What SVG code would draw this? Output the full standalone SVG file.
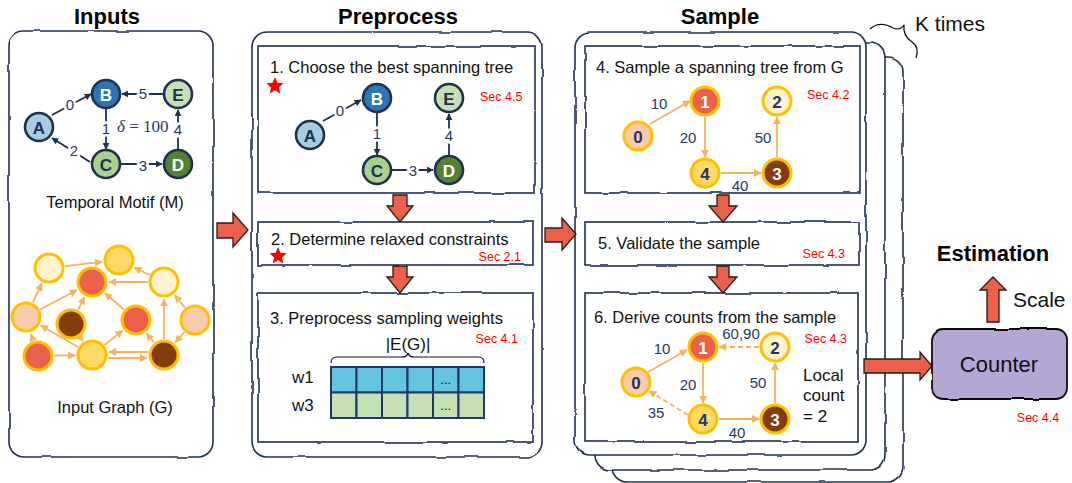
<svg xmlns="http://www.w3.org/2000/svg" width="1072" height="483" viewBox="0 0 1072 483">
<style>
.title{font-family:"Liberation Sans",Arial,sans-serif;font-weight:bold;font-size:22px;fill:#000;text-anchor:middle}
.step{font-family:"Liberation Sans",Arial,sans-serif;font-size:16.5px;fill:#111}
.sec{font-family:"Liberation Sans",Arial,sans-serif;font-size:12.5px;fill:#ff0000}
.cap{font-family:"Liberation Sans",Arial,sans-serif;font-size:16.5px;fill:#111;text-anchor:middle}
.txt{font-family:"Liberation Sans",Arial,sans-serif;fill:#111}
.nl{font-family:"Liberation Sans",Arial,sans-serif;font-weight:bold;font-size:17px;text-anchor:middle;dominant-baseline:central}
.el{font-family:"Liberation Sans",Arial,sans-serif;font-size:15px;fill:#1f3864;text-anchor:middle;dominant-baseline:central;stroke:#fff;stroke-width:5px;paint-order:stroke}
.sl{font-family:"Liberation Sans",Arial,sans-serif;font-size:15px;fill:#1f3864;text-anchor:middle;dominant-baseline:central}
.box{fill:#fff;stroke:#1f3050;stroke-width:1.6}
.mn{stroke:#1f3050;stroke-width:2.6}
.gn{stroke:#ffc000;stroke-width:3}
.me{stroke:#1f3050;stroke-width:1.8;fill:none;marker-end:url(#am)}
.ge{stroke:#f6b35e;stroke-width:1.8;fill:none;marker-end:url(#ag)}
.se{stroke:#f6b35e;stroke-width:1.8;fill:none;marker-end:url(#ag)}
.dash{stroke-dasharray:5 3}
.red{fill:#ea604b;stroke:#2b1a16;stroke-width:1.3}
.cell1{fill:#63c3e0;stroke:#1f3864;stroke-width:2}
.cell2{fill:#c5e0b4;stroke:#1f3864;stroke-width:2}
</style>
<defs>
<marker id="am" viewBox="0 0 10 10" refX="9" refY="5" markerWidth="7" markerHeight="7" markerUnits="userSpaceOnUse" orient="auto"><path d="M0,0 L10,5 L0,10 z" fill="#1f3050"/></marker>
<marker id="ag" viewBox="0 0 10 10" refX="9" refY="5" markerWidth="8" markerHeight="8" markerUnits="userSpaceOnUse" orient="auto"><path d="M0,0 L10,5 L0,10 z" fill="#f6b35e"/></marker>
<filter id="wob" x="-5%" y="-5%" width="110%" height="110%">
<feTurbulence type="fractalNoise" baseFrequency="0.035" numOctaves="2" seed="3" result="n"/>
<feDisplacementMap in="SourceGraphic" in2="n" scale="3" xChannelSelector="R" yChannelSelector="G"/>
</filter>
</defs>

<!-- panels -->
<g id="panels" filter="url(#wob)">
<rect x="9" y="31" width="204" height="426" rx="15" class="box"/>
<rect x="252" y="32" width="290" height="425" rx="15" class="box"/>
<rect x="612" y="57" width="291" height="425" rx="15" class="box"/>
<rect x="595" y="43" width="290" height="427" rx="15" class="box"/>
<rect x="575" y="32" width="291" height="423" rx="15" class="box"/>
<rect x="258" y="46" width="277" height="147" class="box"/>
<rect x="258" y="222" width="275" height="43" class="box"/>
<rect x="258" y="293" width="275" height="149" class="box"/>
<rect x="585" y="46" width="275" height="147" class="box"/>
<rect x="585" y="222" width="274" height="43" class="box"/>
<rect x="585" y="293" width="273" height="149" class="box"/>
</g>

<text class="title" x="107" y="24">Inputs</text>
<text class="title" x="398" y="24">Preprocess</text>
<text class="title" x="720" y="24">Sample</text>
<text class="title" x="993" y="261">Estimation</text>
<text class="txt" x="915" y="31" style="font-size:21px">K times</text>
<path d="M870,29 C878,22 886,24 893,28 C898,30 902,28 904,25 C903,33 906,38 912,42 C918,46 918,52 916,58" fill="none" stroke="#111" stroke-width="1.3"/>

<!-- connectors -->
<g id="connectors">
<!-- motif -->
<path class="me" d="M52,115 L91,94"/>
<path class="me" d="M90,162 L52,138"/>
<path class="me" d="M106,109 L106,149"/>
<path class="me" d="M121,164 L162,164"/>
<path class="me" d="M178,149 L178,110"/>
<path class="me" d="M163,94 L122,94"/>
<!-- input graph -->
<path class="ge" d="M32.8,302.5 L41.8,283.4"/>
<path class="ge" d="M64.9,266.2 L102.1,261.9"/>
<path class="ge" d="M40.1,309.5 L77,290"/>
<path class="ge" d="M148,282 L109,282"/>
<path class="ge" d="M149.6,275 L134.3,267.5"/>
<path class="ge" d="M184.9,307.6 L174.8,295.2"/>
<path class="ge" d="M78.2,309.7 L84.4,297.2"/>
<path class="ge" d="M123.9,309.5 L104.9,293.1"/>
<path class="ge" d="M79,336 L83,341"/>
<path class="ge" d="M104.5,345 L122.7,330.6"/>
<path class="ge" d="M33.5,341 L31,334"/>
<path class="ge" d="M78.1,347 L40.7,325.5"/>
<path class="ge" d="M54,355.7 L75,355.3"/>
<path class="ge" d="M148,352 L109,352"/>
<path class="ge" d="M108,358 L147,358"/>
<path class="ge" d="M164,339 L164,299"/>
<path class="ge" d="M154,342.5 L146.6,333.3"/>
<path class="ge" d="M184.4,332 L175.3,342.3"/>
<!-- step 1 tree -->
<path class="me" d="M323,121 L361,100"/>
<path class="me" d="M377,113 L377,155"/>
<path class="me" d="M392,170 L433,170"/>
<path class="me" d="M449,155 L449,114"/>
<!-- step 4 -->
<path class="se" d="M650,124 L690,101"/>
<path class="se" d="M705,117 L705,157"/>
<path class="se" d="M721,173 L761,173"/>
<path class="se" d="M777,157 L777,117"/>
<!-- step 6 -->
<path class="se" d="M648,372 L687,350"/>
<path class="se" d="M703,363 L703,403"/>
<path class="se" d="M719,419 L759,419"/>
<path class="se" d="M775,403 L775,363"/>
<path class="se dash" d="M759,347 L719,347"/>
<path class="se dash" d="M688,415 L649,391"/>
<!-- red block arrows -->
<path class="red" d="M217,223 L233,223 L233,213 L248,230 L233,247 L233,238 L217,238 Z"/>
<path class="red" d="M545,228 L562,228 L562,218 L576,234 L562,250 L562,242 L545,242 Z"/>
<path class="red" d="M393,195 L407,195 L407,206 L413,206 L400,222 L387,206 L393,206 Z"/>
<path class="red" d="M393,266 L407,266 L407,277 L413,277 L400,293 L387,277 L393,277 Z"/>
<path class="red" d="M717,195 L729,195 L729,206 L737,206 L723,222 L709,206 L717,206 Z"/>
<path class="red" d="M717,266 L729,266 L729,277 L737,277 L723,293 L709,277 L717,277 Z"/>
<path class="red" d="M864,359 L920,359 L920,352 L932,366 L920,380 L920,373 L864,373 Z"/>
<path class="red" d="M987,322 L999,322 L999,290 L1006,290 L993,277 L980,290 L987,290 Z"/>
</g>

<!-- motif labels -->
<g id="motif-labels">
<text class="el" x="70" y="104">0</text>
<text class="el" x="74" y="150">2</text>
<text class="el" x="106" y="128">1</text>
<text class="el" x="143" y="165">3</text>
<text class="el" x="178" y="129">4</text>
<text class="el" x="143" y="93">5</text>
<text x="117" y="132" style="font-family:'Liberation Serif','Times New Roman',serif;font-size:17px;fill:#1f3864"><tspan font-style="italic">δ</tspan> = 100</text>
</g>

<g id="node-A"><circle cx="39" cy="127" r="14" class="mn" fill="#a6cde3"/><text class="nl" x="39" y="128" fill="#1f3050">A</text></g>
<g id="node-B"><circle cx="106" cy="94" r="14" class="mn" fill="#2e75b6"/><text class="nl" x="106" y="95" fill="#fff">B</text></g>
<g id="node-E"><circle cx="178" cy="94" r="14" class="mn" fill="#c5e0b4"/><text class="nl" x="178" y="95" fill="#1f3050">E</text></g>
<g id="node-C"><circle cx="106" cy="164" r="14" class="mn" fill="#a9d18e"/><text class="nl" x="106" y="165" fill="#1f3050">C</text></g>
<g id="node-D"><circle cx="178" cy="164" r="14" class="mn" fill="#548235"/><text class="nl" x="178" y="165" fill="#fff">D</text></g>
<text class="cap" x="115" y="208">Temporal Motif (M)</text>

<!-- input graph nodes -->
<g id="input-graph">
<circle cx="49" cy="268" r="14" class="gn" fill="#fff2cc"/>
<circle cx="119" cy="260" r="14" class="gn" fill="#ffd966"/>
<circle cx="92" cy="282" r="14" class="gn" fill="#ea604b"/>
<circle cx="164" cy="282" r="14" class="gn" fill="#fff2cc"/>
<circle cx="26" cy="317" r="14" class="gn" fill="#f8cbad"/>
<circle cx="71" cy="324" r="14" class="gn" fill="#843c0c"/>
<circle cx="136" cy="320" r="14" class="gn" fill="#ea604b"/>
<circle cx="195" cy="320" r="14" class="gn" fill="#f8cbad"/>
<circle cx="38" cy="356" r="14" class="gn" fill="#ea604b"/>
<circle cx="92" cy="355" r="14" class="gn" fill="#ffd966"/>
<circle cx="164" cy="355" r="14" class="gn" fill="#843c0c"/>
</g>
<text class="cap" x="115" y="413">Input Graph (G)</text>

<!-- step 1 -->
<g id="step1">
<text class="step" x="270" y="73">1. Choose the best spanning tree</text>
<polygon points="275,77 277.4,82.7 283.6,83.3 278.9,87.4 280.3,93.5 275,90.3 269.7,93.5 271.1,87.4 266.4,83.3 272.6,82.7" fill="#ff0000"/>
<text class="sec" x="480" y="101">Sec 4.5</text>
<text class="el" x="340" y="110">0</text>
<text class="el" x="377" y="133">1</text>
<text class="el" x="413" y="170">3</text>
<text class="el" x="449" y="135">4</text>
<g id="s1-A"><circle cx="310" cy="135" r="14" class="mn" fill="#a6cde3"/><text class="nl" x="310" y="136" fill="#1f3050">A</text></g>
<g id="s1-B"><circle cx="377" cy="98" r="14" class="mn" fill="#2e75b6"/><text class="nl" x="377" y="99" fill="#fff">B</text></g>
<g id="s1-E"><circle cx="449" cy="98" r="14" class="mn" fill="#c5e0b4"/><text class="nl" x="449" y="99" fill="#1f3050">E</text></g>
<g id="s1-C"><circle cx="377" cy="170" r="14" class="mn" fill="#a9d18e"/><text class="nl" x="377" y="171" fill="#1f3050">C</text></g>
<g id="s1-D"><circle cx="449" cy="170" r="14" class="mn" fill="#548235"/><text class="nl" x="449" y="171" fill="#fff">D</text></g>
</g>

<!-- step 2 -->
<g id="step2">
<text class="step" x="271" y="245">2. Determine relaxed constraints</text>
<polygon points="278,247 280.4,252.7 286.6,253.3 281.9,257.4 283.3,263.5 278,260.3 272.7,263.5 274.1,257.4 269.4,253.3 275.6,252.7" fill="#ff0000"/>
<text class="sec" x="521" y="261" text-anchor="end">Sec 2.1</text>
</g>

<!-- step 3 -->
<g id="step3">
<text class="step" x="270" y="324">3. Preprocess sampling weights</text>
<text class="sec" x="518" y="343" text-anchor="end">Sec 4.1</text>
<text class="txt" x="408" y="350" text-anchor="middle" style="font-size:17px">|E(G)|</text>
<path d="M331,363 Q331,357 337,357 L402,357 Q407,357 408,353 Q409,357 414,357 L478,357 Q484,357 484,363" fill="none" stroke="#111" stroke-width="1.2"/>
<text class="txt" x="292" y="383" style="font-size:17px">w1</text>
<text class="txt" x="292" y="411" style="font-size:17px">w3</text>
<rect x="331" y="367" width="25.5" height="25.5" class="cell1"/>
<rect x="356.5" y="367" width="25.5" height="25.5" class="cell1"/>
<rect x="382" y="367" width="25.5" height="25.5" class="cell1"/>
<rect x="407.5" y="367" width="25.5" height="25.5" class="cell1"/>
<rect x="433" y="367" width="25.5" height="25.5" class="cell1"/>
<rect x="458.5" y="367" width="25.5" height="25.5" class="cell1"/>
<rect x="331" y="392.5" width="25.5" height="25.5" class="cell2"/>
<rect x="356.5" y="392.5" width="25.5" height="25.5" class="cell2"/>
<rect x="382" y="392.5" width="25.5" height="25.5" class="cell2"/>
<rect x="407.5" y="392.5" width="25.5" height="25.5" class="cell2"/>
<rect x="433" y="392.5" width="25.5" height="25.5" class="cell2"/>
<rect x="458.5" y="392.5" width="25.5" height="25.5" class="cell2"/>
<text class="txt" x="445.7" y="384" text-anchor="middle" style="font-size:13px">...</text>
<text class="txt" x="445.7" y="410" text-anchor="middle" style="font-size:13px">...</text>
</g>

<!-- step 4 -->
<g id="step4">
<text class="step" x="596" y="73">4. Sample a spanning tree from G</text>
<text class="sec" x="807" y="99">Sec 4.2</text>
<text class="sl" x="659" y="103">10</text>
<text class="sl" x="688" y="137">20</text>
<text class="sl" x="740" y="185">40</text>
<text class="sl" x="763" y="137">50</text>
<g id="s4-0"><circle cx="638" cy="136" r="14" class="gn" fill="#f8cbad"/><text class="nl" x="638" y="137" fill="#1f3864">0</text></g>
<g id="s4-1"><circle cx="705" cy="101" r="14" class="gn" fill="#ea604b"/><text class="nl" x="705" y="102" fill="#fff">1</text></g>
<g id="s4-2"><circle cx="777" cy="101" r="14" class="gn" fill="#fff2cc"/><text class="nl" x="777" y="102" fill="#1f3864">2</text></g>
<g id="s4-4"><circle cx="705" cy="173" r="14" class="gn" fill="#ffd966"/><text class="nl" x="705" y="174" fill="#1f3864">4</text></g>
<g id="s4-3"><circle cx="777" cy="173" r="14" class="gn" fill="#843c0c"/><text class="nl" x="777" y="174" fill="#fff">3</text></g>
</g>

<!-- step 5 -->
<g id="step5">
<text class="step" x="598" y="249">5. Validate the sample</text>
<text class="sec" x="845" y="258" text-anchor="end">Sec 4.3</text>
</g>

<!-- step 6 -->
<g id="step6">
<text class="step" x="594" y="323">6. Derive counts from the sample</text>
<text class="sec" x="847" y="343" text-anchor="end">Sec 4.3</text>
<text class="sl" x="662" y="348">10</text>
<text class="sl" x="688" y="384">20</text>
<text class="sl" x="737" y="432">40</text>
<text class="sl" x="758" y="382">50</text>
<text class="sl" x="741" y="333">60,90</text>
<text class="sl" x="656" y="412">35</text>
<text class="txt" x="803" y="381" style="font-size:17px">Local</text>
<text class="txt" x="803" y="401" style="font-size:17px">count</text>
<text class="txt" x="803" y="422" style="font-size:17px">= 2</text>
<g id="s6-0"><circle cx="636" cy="382" r="14" class="gn" fill="#f8cbad"/><text class="nl" x="636" y="383" fill="#1f3864">0</text></g>
<g id="s6-1"><circle cx="703" cy="347" r="14" class="gn" fill="#ea604b"/><text class="nl" x="703" y="348" fill="#fff">1</text></g>
<g id="s6-2"><circle cx="775" cy="347" r="14" class="gn" fill="#fff2cc"/><text class="nl" x="775" y="348" fill="#1f3864">2</text></g>
<g id="s6-4"><circle cx="703" cy="419" r="14" class="gn" fill="#ffd966"/><text class="nl" x="703" y="420" fill="#1f3864">4</text></g>
<g id="s6-3"><circle cx="775" cy="419" r="14" class="gn" fill="#843c0c"/><text class="nl" x="775" y="420" fill="#fff">3</text></g>
</g>

<!-- counter -->
<g id="counter">
<rect x="932" y="329" width="135" height="70" rx="11" fill="#b4a7d6" stroke="#111" stroke-width="1.8" filter="url(#wob)"/>
<text class="txt" x="999" y="372" text-anchor="middle" style="font-size:22px">Counter</text>
<text class="sec" x="1038" y="422" text-anchor="middle">Sec 4.4</text>
<text class="txt" x="1013" y="307" style="font-size:21px">Scale</text>
</g>
</svg>
